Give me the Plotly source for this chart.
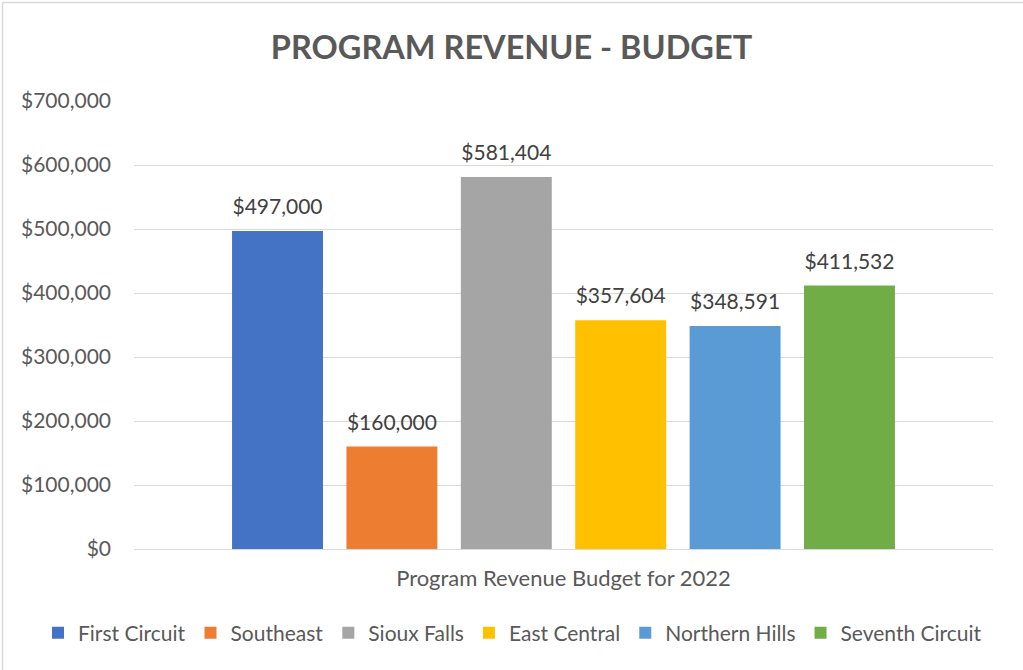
import plotly.graph_objects as go

categories = ["Program Revenue Budget for 2022"]
series_names = ["First Circuit", "Southeast", "Sioux Falls", "East Central", "Northern Hills", "Seventh Circuit"]
series_values = [497000, 160000, 581404, 357604, 348591, 411532]
series_colors = ["#4472C4", "#ED7D31", "#A5A5A5", "#FFC000", "#5B9BD5", "#70AD47"]
tick_values = [0, 100000, 200000, 300000, 400000, 500000, 600000, 700000]
tick_labels = ["$0", "$100,000", "$200,000", "$300,000", "$400,000", "$500,000", "$600,000", "$700,000"]

FONT = "Lato"
W, H = 1023, 670
L, R, T, B = 134, 30, 101, 121
BARGAP = 0.201

fig = go.Figure()
for i, (name, val, col) in enumerate(zip(series_names, series_values, series_colors)):
    fig.add_trace(go.Bar(
        name=name, x=categories, y=[val], marker=dict(color=col, line=dict(width=0)),
        offsetgroup=str(i), hoverinfo="skip",
    ))
for i, (name, val) in enumerate(zip(series_names, series_values)):
    fig.add_trace(go.Scatter(
        name=name, x=categories, y=[val], mode="markers+text", showlegend=False,
        offsetgroup=str(i), marker=dict(size=17, opacity=0, color="white"),
        text=[val], texttemplate="$%{y:,.0f}", textposition="top center",
        textfont=dict(family=FONT, size=21, color="#404040"), cliponaxis=False,
        hoverinfo="skip",
    ))

pw = W - L - R
ph = H - T - B
LEG_LEFT = 38
fig.update_layout(
    width=W, height=H,
    margin=dict(l=L, r=R, t=T, b=B, autoexpand=False),
    paper_bgcolor="white", plot_bgcolor="white",
    barmode="group", bargap=BARGAP, bargroupgap=0.205,
    scattermode="group", scattergap=BARGAP,
    hovermode=False,
    title=dict(text="<b>PROGRAM REVENUE - BUDGET</b>", x=0.5, xanchor="center",
               y=1 - 48 / H, yanchor="middle",
               font=dict(family=FONT, size=32.5, color="#595959")),
    font=dict(family=FONT, color="#595959"),
    showlegend=True,
    legend=dict(orientation="h", xref="paper", x=(LEG_LEFT - L) / pw, xanchor="left",
                y=-(633 - 549) / ph, yanchor="middle",
                font=dict(family=FONT, size=21, color="#595959"), traceorder="normal",
                itemwidth=30, bgcolor="rgba(0,0,0,0)"),
    xaxis=dict(showgrid=False, showline=False, ticks="", tickfont=dict(family=FONT, size=22, color="#595959"),
               ticklabelstandoff=14),
    yaxis=dict(range=[0, 700000], tickvals=tick_values, ticktext=tick_labels, showgrid=True,
               gridcolor="#D9D9D9", gridwidth=1, zeroline=True, zerolinecolor="#D9D9D9", zerolinewidth=1,
               showline=False, ticks="", ticklabelstandoff=22,
               tickfont=dict(family=FONT, size=21, color="#595959")),
    shapes=[dict(type="rect", xref="paper", yref="paper",
                 x0=(2.5 - L) / pw, x1=(W + 10 - L) / pw,
                 y0=-(H + 10 - (H - B)) / ph, y1=1 + (T - 2.5) / ph,
                 line=dict(color="#D9D9D9", width=1.5), fillcolor="rgba(0,0,0,0)", layer="below")],
)

fig.write_html("out.html", config={"displayModeBar": False},
               post_script="document.body.style.margin='0px';document.body.style.overflow='hidden';")
